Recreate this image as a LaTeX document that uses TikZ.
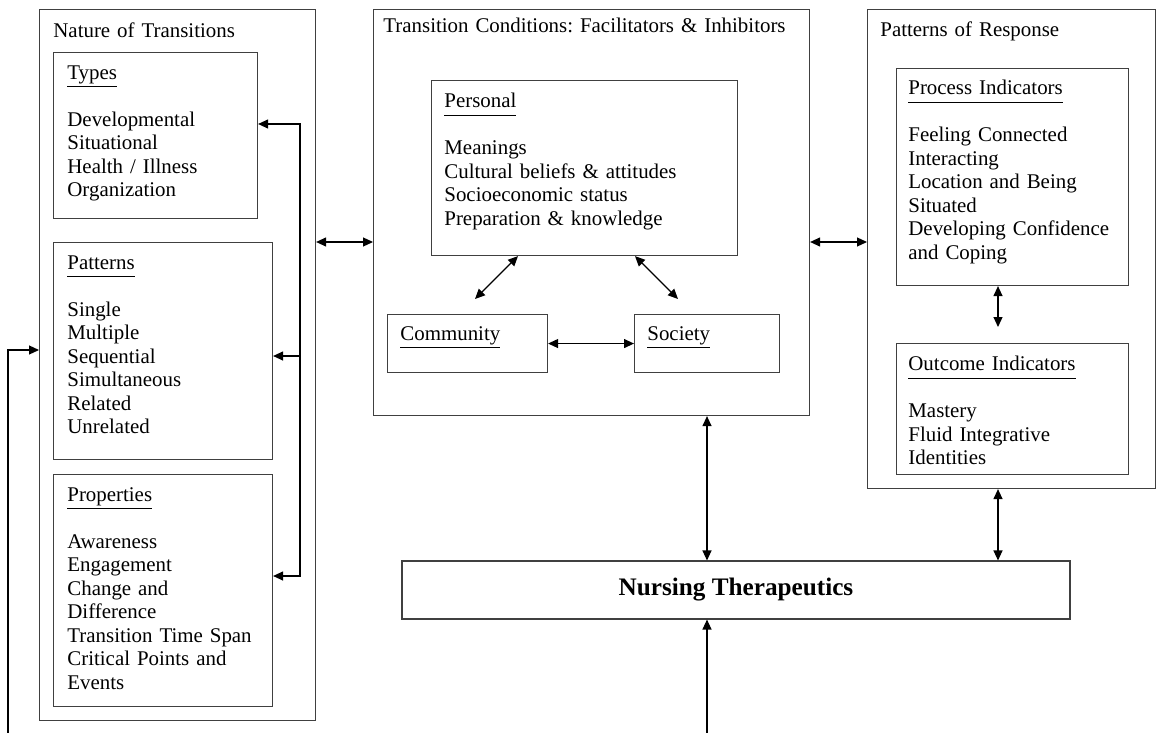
\documentclass[tikz,border=0pt]{standalone}
\usepackage{fontspec}
\setmainfont{Liberation Serif}
\usetikzlibrary{arrows.meta}
\newcommand{\hd}[1]{\underline{#1\vphantom{y}}}
\frenchspacing

\tikzset{
  frame/.style={draw=black!75, line width=0.55pt, anchor=north west, inner sep=0pt},
  txt/.style={anchor=north west, inner sep=0pt, align=left, text width=150pt,
    font=\fontsize{10.45}{11.75}\selectfont},
  link/.style={line width=0.6pt},
}

\begin{document}
\begin{tikzpicture}[x=0.5pt, y=-0.5pt, >={Triangle[length=5pt,width=4.5pt]}]
  \useasboundingbox (0,0) rectangle (1157,733);

  % Nature of Transitions
  \node[frame, minimum width=138pt, minimum height=355.5pt] (nat) at (39,9) {};
  \node[txt] (natT) at ([xshift=7pt,yshift=-6.5pt]nat.north west) {Nature of Transitions};
  \node[frame, minimum width=102pt, minimum height=83pt] (typ) at (53,52) {};
  \node[txt] (typT) at ([xshift=7pt,yshift=-6.5pt]typ.north west)
    {\hd{Types}\\[\baselineskip]Developmental\\Situational\\Health / Illness\\Organization};
  \node[frame, minimum width=109.5pt, minimum height=108.5pt] (pat) at (53,242) {};
  \node[txt] (patT) at ([xshift=7pt,yshift=-6.5pt]pat.north west)
    {\hd{Patterns}\\[\baselineskip]Single\\Multiple\\Sequential\\Simultaneous\\Related\\Unrelated};
  \node[frame, minimum width=109.5pt, minimum height=116pt] (pro) at (53,474) {};
  \node[txt] (proT) at ([xshift=7pt,yshift=-6.5pt]pro.north west)
    {\hd{Properties}\\[\baselineskip]Awareness\\Engagement\\Change and\\Difference\\Transition Time Span\\Critical Points and\\Events};

  % Transition Conditions
  \node[frame, minimum width=218pt, minimum height=203pt] (cond) at (373,9) {};
  \node[txt, text width=210pt] (condT) at ([xshift=5pt,yshift=-4.5pt]cond.north west)
    {Transition Conditions: Facilitators \& Inhibitors};
  \node[frame, minimum width=153pt, minimum height=87.5pt] (pers) at (431,80) {};
  \node[txt] (persT) at ([xshift=6.5pt,yshift=-6.5pt]pers.north west)
    {\hd{Personal}\\[\baselineskip]Meanings\\Cultural beliefs \& attitudes\\Socioeconomic status\\Preparation \& knowledge};
  \node[frame, minimum width=80pt, minimum height=29pt] (comm) at (387,314) {};
  \node[txt] (commT) at ([xshift=6.5pt,yshift=-6pt]comm.north west) {\hd{Community}};
  \node[frame, minimum width=72.5pt, minimum height=29pt] (soc) at (634,314) {};
  \node[txt] (socT) at ([xshift=6.5pt,yshift=-6pt]soc.north west) {\hd{Society}};

  % Patterns of Response
  \node[frame, minimum width=144pt, minimum height=239.5pt] (resp) at (867,9) {};
  \node[txt] (respT) at ([xshift=6.5pt,yshift=-6pt]resp.north west) {Patterns of Response};
  \node[frame, minimum width=116pt, minimum height=108.5pt] (proc) at (896,68) {};
  \node[txt] (procT) at ([xshift=6pt,yshift=-6pt]proc.north west)
    {\hd{Process Indicators}\\[\baselineskip]Feeling Connected\\Interacting\\Location and Being\\Situated\\Developing Confidence\\and Coping};
  \node[frame, minimum width=116pt, minimum height=65.5pt] (outc) at (896,343) {};
  \node[txt] (outcT) at ([xshift=6pt,yshift=-6.5pt]outc.north west)
    {\hd{Outcome Indicators}\\[\baselineskip]Mastery\\Fluid Integrative\\Identities};

  \node[frame, minimum width=334pt, minimum height=29pt, anchor=center,
    font=\fontsize{12.6}{14}\selectfont\bfseries] (nur) at (736,590) {Nursing Therapeutics};

  % connectors
  \coordinate (lvl) at (0,242);
  \draw[link, <->] (nat.east |- lvl) -- (cond.west |- lvl);
  \draw[link, <->] (cond.east |- lvl) -- (resp.west |- lvl);

  \coordinate (fbA) at (300,124);
  \coordinate (fbB) at (300,356);
  \coordinate (fbC) at (300,576);
  \draw[link, <->] (typ.east |- fbA) -- (fbA) -- (fbC) -- (pro.east |- fbC);
  \draw[link, ->] (fbB) -- (pat.east |- fbB);

  \coordinate (loopIn) at (8,733);
  \coordinate (loopUp) at (8,350);
  \draw[link, ->] (loopIn) -- (loopUp) -- (nat.west |- loopUp);

  \draw[link, <->] ([xshift=43.5pt]pers.south west) -- ([xshift=44pt,yshift=7.5pt]comm.north west);
  \draw[link, <->] ([xshift=102pt]pers.south west) -- ([xshift=22pt,yshift=7.5pt]soc.north west);
  \draw[link, <->] (comm.east) -- (soc.west);

  \coordinate (colA) at (707,0);
  \coordinate (feedIn) at (707,733);
  \draw[link, <->] (cond.south -| colA) -- (nur.north -| colA);
  \draw[link, ->] (feedIn) -- (nur.south -| feedIn);

  \coordinate (colB) at (998,0);
  \draw[link, <->, shorten >=8pt] (proc.south -| colB) -- (outc.north -| colB);
  \draw[link, <->] (resp.south -| colB) -- (nur.north -| colB);
\end{tikzpicture}
\end{document}
